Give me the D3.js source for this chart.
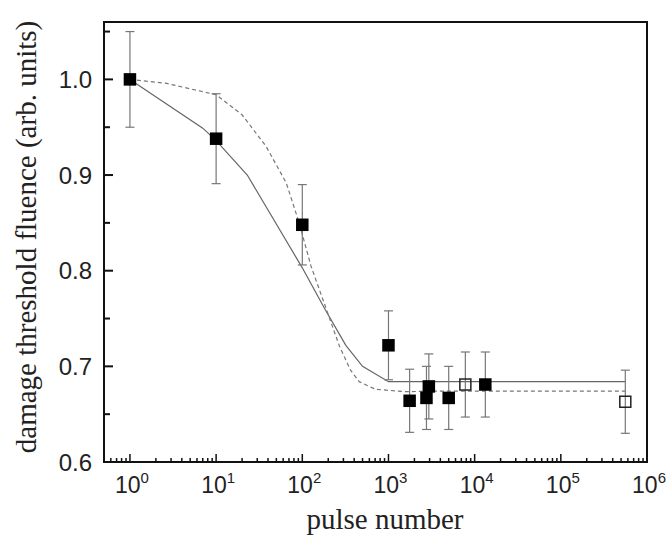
<!DOCTYPE html>
<html><head><meta charset="utf-8">
<script src="https://cdn.jsdelivr.net/npm/d3@7"></script>
<style>body{margin:0;background:#fff}
.sans{font-family:"Liberation Sans",Arial,sans-serif}
.serif{font-family:"Liberation Serif","Times New Roman",serif}
</style>
</head><body>
<svg id="c" width="667" height="536"></svg>
<script>
// Data
const filledX = [1, 10, 100, 1000, 1760, 2760, 2940, 5000, 13300];
const filledY = [1.000, 0.938, 0.848, 0.722, 0.664, 0.667, 0.679, 0.667, 0.681];
const filledErr = [0.050, 0.047, 0.042, 0.036, 0.033, 0.033, 0.034, 0.033, 0.034];
const openX = [7800, 560000];
const openY = [0.681, 0.663];
const openErr = [0.034, 0.033];
const solidFitX = [1, 7, 10, 23, 100, 180, 320, 500, 1000, 560000];
const solidFitY = [1.000, 0.949, 0.936, 0.900, 0.803, 0.761, 0.722, 0.700, 0.684, 0.684];
const dashFitX = [1, 2.6, 10, 20, 38, 65, 92, 126, 204, 270, 363, 457, 708, 1585, 3000, 560000];
const dashFitY = [1.000, 0.996, 0.984, 0.963, 0.930, 0.892, 0.850, 0.805, 0.752, 0.721, 0.696, 0.684, 0.676, 0.6735, 0.674, 0.674];
const yTicks = [0.6, 0.7, 0.8, 0.9, 1.0];
const yMinor = [0.65, 0.75, 0.85, 0.95, 1.05];
const xTickExp = [0, 1, 2, 3, 4, 5, 6];
const xLabel = "pulse number";
const yLabel = "damage threshold fluence (arb. units)";

const svg = d3.select("#c");
const L = 104, R = 647, T = 22, B = 462;
const x = d3.scaleLog().domain([0.5, 1e6]).range([L, R]);
const y = d3.scaleLinear().domain([0.6, 1.06]).range([B, T]);

// fit curves
const line = d3.line().x(d => x(d[0])).y(d => y(d[1]));
svg.append("path").datum(solidFitX.map((v, i) => [v, solidFitY[i]]))
  .attr("d", line).attr("fill", "none").attr("stroke", "#666").attr("stroke-width", 1.2);
svg.append("path").datum(dashFitX.map((v, i) => [v, dashFitY[i]]))
  .attr("d", line).attr("fill", "none").attr("stroke", "#777").attr("stroke-width", 1.2)
  .attr("stroke-dasharray", "4,3");

// error bars
function errBars(xs, ys, es) {
  const g = svg.append("g").attr("stroke", "#777").attr("stroke-width", 1.2);
  xs.forEach((xv, i) => {
    const cx = x(xv), y1 = y(ys[i] + es[i]), y2 = y(ys[i] - es[i]);
    g.append("line").attr("x1", cx).attr("x2", cx).attr("y1", y1).attr("y2", y2);
    g.append("line").attr("x1", cx - 4.5).attr("x2", cx + 4.5).attr("y1", y1).attr("y2", y1);
    g.append("line").attr("x1", cx - 4.5).attr("x2", cx + 4.5).attr("y1", y2).attr("y2", y2);
  });
}
errBars(filledX, filledY, filledErr);
errBars(openX, openY, openErr);

const s = 12.5;
svg.append("g").selectAll("rect").data(filledX).join("rect")
  .attr("x", (d) => x(d) - s / 2).attr("y", (d, i) => y(filledY[i]) - s / 2)
  .attr("width", s).attr("height", s).attr("fill", "#000");
svg.append("g").selectAll("rect").data(openX).join("rect")
  .attr("x", (d) => x(d) - s / 2 + 0.75).attr("y", (d, i) => y(openY[i]) - s / 2 + 0.75)
  .attr("width", s - 1.5).attr("height", s - 1.5).attr("fill", "none")
  .attr("stroke", "#222").attr("stroke-width", 1.5);

// frame
svg.append("rect").attr("x", L).attr("y", T).attr("width", R - L).attr("height", B - T)
  .attr("fill", "none").attr("stroke", "#111").attr("stroke-width", 2);

// y ticks
const ga = svg.append("g").attr("stroke", "#111").attr("stroke-width", 2);
yTicks.forEach(v => ga.append("line").attr("x1", L).attr("x2", L + 9).attr("y1", y(v)).attr("y2", y(v)));
yMinor.forEach(v => ga.append("line").attr("x1", L).attr("x2", L + 6).attr("y1", y(v)).attr("y2", y(v)));
svg.append("g").selectAll("text").data(yTicks).join("text")
  .attr("class", "sans")
  .attr("x", 92).attr("y", d => y(d) + 8.5).attr("text-anchor", "end")
  .attr("font-size", 24).attr("fill", "#222")
  .text(d => d3.format(".1f")(d));

// x ticks
const gx = svg.append("g").attr("stroke", "#111").attr("stroke-width", 1.5);
for (let e = -1; e <= 5; e++) {
  for (let m = 1; m <= 9; m++) {
    const v = m * Math.pow(10, e);
    if (v < 0.5 || v > 1e6) continue;
    const len = m === 1 ? 8 : 4;
    gx.append("line").attr("x1", x(v)).attr("x2", x(v)).attr("y1", B).attr("y2", B - len);
  }
}
const xt = svg.append("g").selectAll("text").data(xTickExp).join("text")
  .attr("class", "sans")
  .attr("x", d => x(Math.pow(10, d)) + 2).attr("y", 493).attr("text-anchor", "middle")
  .attr("font-size", 23).attr("fill", "#222");
xt.append("tspan").text("10");
xt.append("tspan").attr("dy", -10).attr("font-size", 15).text(d => d);

// axis titles
svg.append("text").attr("class", "serif").attr("x", 385).attr("y", 529).attr("text-anchor", "middle")
  .attr("font-size", 29).attr("fill", "#222")
  .text(xLabel);
svg.append("text").attr("class", "serif").attr("transform", "translate(36,237) rotate(-90)").attr("text-anchor", "middle")
  .attr("font-size", 29).attr("fill", "#222")
  .text(yLabel);
</script>
</body></html>
